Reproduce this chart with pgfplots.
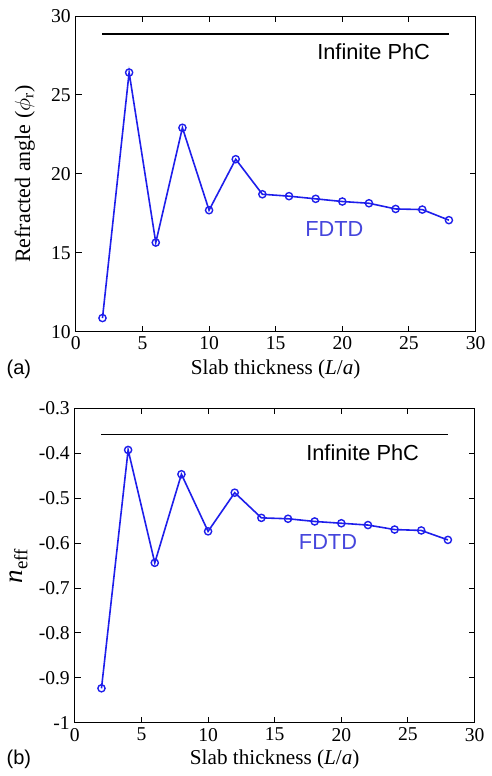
\documentclass[border=0pt]{standalone}
\usepackage{fontspec}
\setmainfont{Liberation Serif}
\newfontfamily\anfont{Liberation Sans}
\usepackage{pgfplots}
\pgfplotsset{compat=1.18}
\definecolor{mblue}{RGB}{30,30,235}
\definecolor{tblue}{RGB}{70,70,220}
\pgfplotsset{
  common/.style={
    scale only axis, width=200pt,
    xmin=0, xmax=30, xtick={0,5,...,30},
    tick align=inside, xtick pos=both, ytick pos=both,
    major tick length=3pt,
    tick style={black, line width=0.5pt},
    axis line style={line width=0.5pt},
    /pgf/number format/assume math mode=true,
    ticklabel style={font=\fontsize{9.8}{11}\selectfont},
    xticklabel style={yshift=1pt},
    yticklabel style={xshift=1pt},
    xlabel style={font=\fontsize{10.6}{12}\selectfont},
    ylabel style={font=\fontsize{11}{13}\selectfont},
    xlabel={Slab thickness (\textit{L}/\textit{a})},
  },
  fdtd/.style={mblue, line width=0.8pt, mark=o, mark size=1.8pt, mark options={line width=0.7pt}},
}
\begin{document}
\begin{tikzpicture}
\path (0,0) rectangle (242.5pt,-388pt);
\begin{axis}[common, at={(37.5pt,-166pt)}, anchor=south west, height=158pt,
  ymin=10, ymax=30, ytick={10,15,...,30},
  xlabel style={at={(axis description cs:0.5,-0.12)}, anchor=center},
  ylabel={Refracted angle ($\phi_{\mathrm{r}}$)},
  ylabel style={at={(axis description cs:-0.128,0.5)}, anchor=center},
]
\addplot[black, line width=0.8pt] coordinates {(2,28.86) (28,28.86)};
\addplot[fdtd] coordinates {
(2,10.87) (4,26.42) (6,15.65) (8,22.92) (10,17.70) (12,20.93) (14,18.71)
(16,18.59) (18,18.42) (20,18.25) (22,18.14) (24,17.78) (26,17.74) (28,17.07)};
\node[font=\anfont\fontsize{10.9}{12}\selectfont] at (axis cs:22.35,27.74) {Infinite PhC};
\node[font=\anfont\fontsize{10.9}{12}\selectfont, text=tblue] at (axis cs:19.4,16.5) {FDTD};
\end{axis}
\node[font=\anfont\fontsize{10}{12}\selectfont] at (9pt,-185pt) {(a)};
\begin{axis}[common, at={(37pt,-361.7pt)}, anchor=south west, height=157.5pt,
  ymin=-1, ymax=-0.3, ytick={-1,-0.9,...,-0.3},
  yticklabel style={/pgf/number format/fixed, /pgf/number format/precision=1},
  xlabel style={at={(axis description cs:0.5,-0.117)}, anchor=center},
  ylabel={\fontsize{13.5}{15}\selectfont\textit{n}\textsubscript{eff}},
  ylabel style={at={(axis description cs:-0.14,0.5)}, anchor=center},
]
\addplot[black, line width=0.8pt] coordinates {(2,-0.359) (28,-0.359)};
\addplot[fdtd] coordinates {
(2,-0.923) (4,-0.393) (6,-0.644) (8,-0.447) (10,-0.574) (12,-0.488) (14,-0.544)
(16,-0.546) (18,-0.552) (20,-0.556) (22,-0.560) (24,-0.570) (26,-0.572) (28,-0.593)};
\node[font=\anfont\fontsize{10.9}{12}\selectfont] at (axis cs:21.6,-0.40) {Infinite PhC};
\node[font=\anfont\fontsize{10.9}{12}\selectfont, text=tblue] at (axis cs:19.0,-0.598) {FDTD};
\end{axis}
\node[font=\anfont\fontsize{10}{12}\selectfont] at (9pt,-380pt) {(b)};
\end{tikzpicture}
\end{document}
